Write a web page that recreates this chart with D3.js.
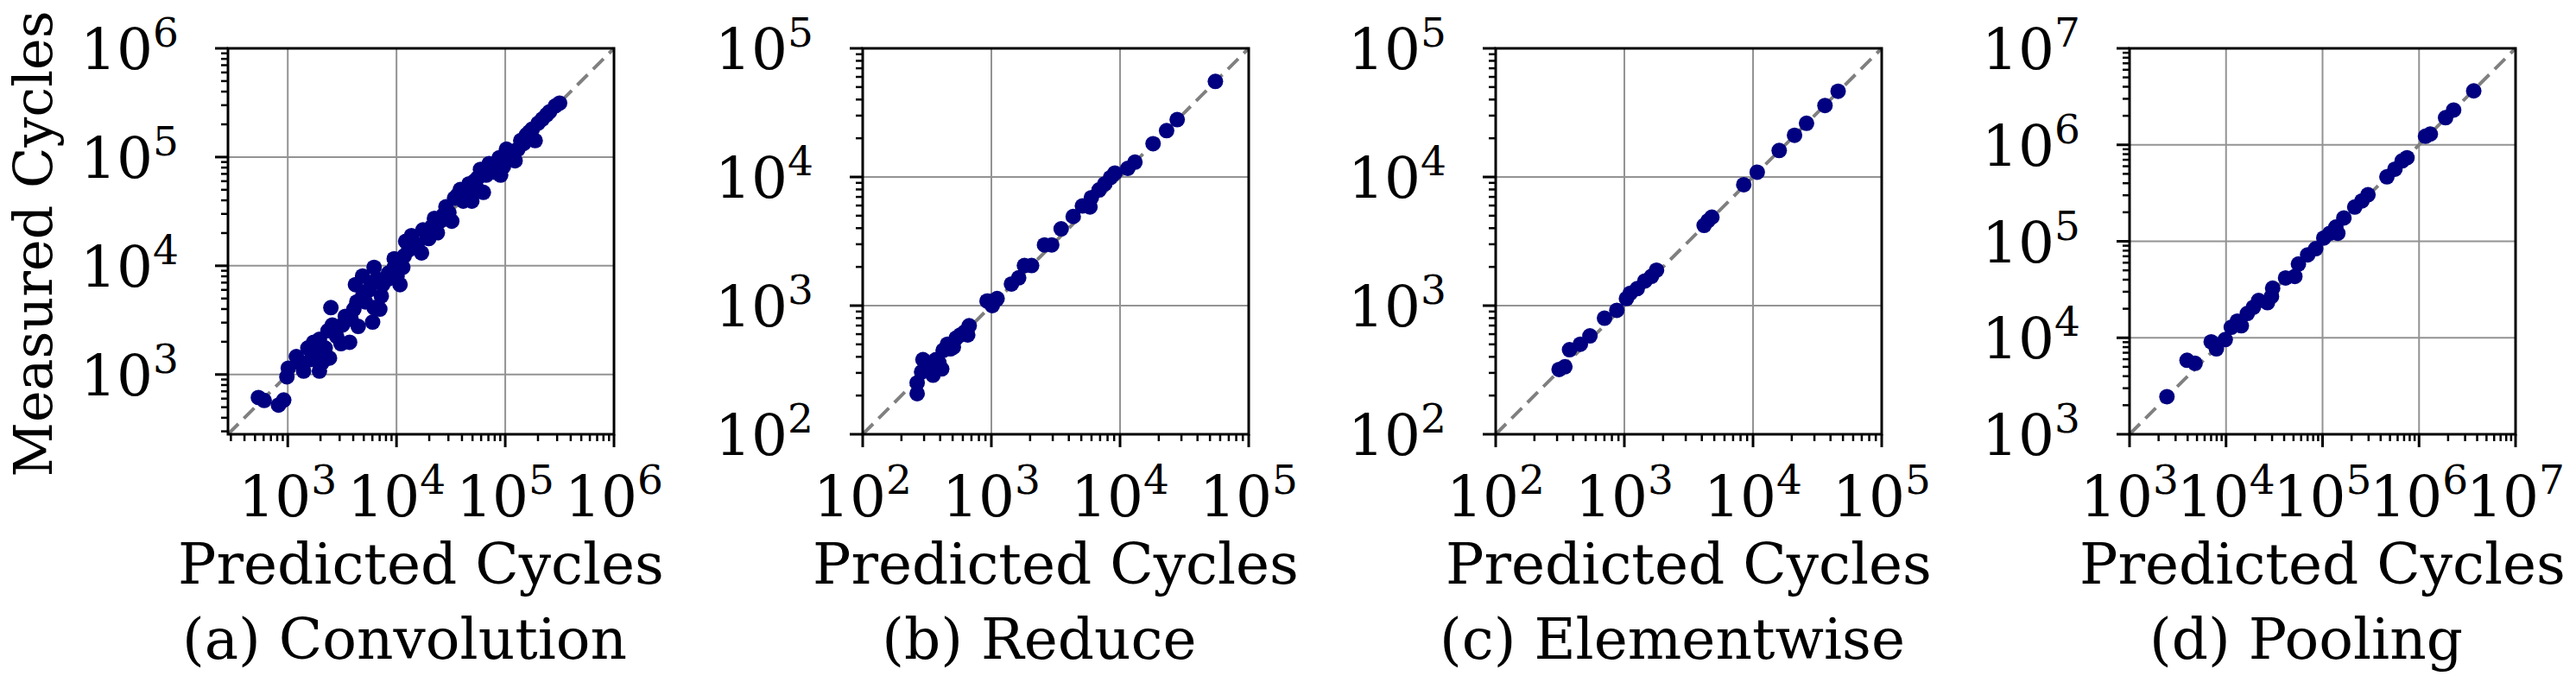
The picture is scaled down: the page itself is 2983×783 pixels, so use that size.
<!DOCTYPE html>
<html lang="en">

<head>
    <title>Predicted vs measured cycles</title>
    <meta charset="utf-8">
    <script src="https://d3js.org/d3.v7.min.js"></script>
    <style>
        body { margin: 0; background: #fff; }
        text { font-family: "DejaVu Serif", serif; fill: #000; }
    </style>
</head>

<body>
    <div id="chart"></div>
    <script>
        // Data: [predicted, measured] cycles
        const convolution = [
            [537, 614], [607, 577], [822, 523], [918, 583], [1012, 1143], [982, 952], [1399, 1076], [1276, 1291],
            [1954, 1076], [2073, 1291], [1531, 1753], [1730, 1552], [1954, 2104], [2208, 1753], [2421, 1416],
            [2345, 2528], [2571, 2856], [2493, 4120], [3085, 1920], [3704, 1981], [3183, 2856], [3383, 3428],
            [4059, 3992], [4445, 2769], [6030, 3034], [7025, 3992], [6222, 4120], [4318, 4654], [4877, 5260],
            [5509, 5943], [5852, 6714], [4193, 6714], [4877, 8054], [6222, 9679], [6607, 7580], [7246, 5260],
            [8440, 8566], [9530, 9679], [10770, 6714], [10120, 8054], [11430, 9679], [10770, 10940], [11780, 12350],
            [12150, 16760], [13740, 18930], [15490, 15770], [17500, 21390], [16980, 13130], [19780, 17810],
            [21020, 22740], [22340, 27310], [23750, 20120], [25230, 25700], [28500, 34850], [32200, 25700],
            [30300, 30850], [34200, 41850], [38620, 50260], [41100, 39380], [46400, 56780], [49300, 39380],
            [52450, 60390], [55720, 50260], [62950, 47300], [59180, 77070], [66840, 68230], [71080, 87030],
            [80300, 72470], [87900, 98360], [96300, 81870], [90700, 68230], [102600, 118100], [112300, 111100],
            [123000, 92550], [130700, 118100], [138900, 141800], [156900, 160300], [177300, 181100],
            [188400, 141800], [200300, 204700], [219500, 224200], [240400, 245600], [288500, 295100],
            [316000, 313600], [9530, 11610], [12910, 13950], [18600, 20120], [26830, 29030], [36360, 44500],
            [43650, 47300], [55720, 64180], [75540, 77070], [85350, 87030], [115600, 104500], [147600, 133400],
            [166800, 170400], [255500, 261000], [2818, 2685], [3821, 3228], [5176, 4654], [7464, 6714],
            [8440, 7580], [2818, 2237], [1629, 1374], [1200, 1459], [1730, 1981]
        ];

        const reduce = [
            [265, 207], [265, 251], [294, 380], [287, 305], [318, 322], [352, 340], [352, 288], [391, 360],
            [411, 322], [422, 449], [456, 501], [506, 475], [533, 560], [575, 592], [622, 625], [672, 698],
            [655, 592], [318, 360], [371, 380], [481, 461], [940, 1086], [1096, 1117], [1016, 1000], [926, 1086],
            [1108, 1136], [1000, 1028], [1432, 1472], [1630, 1644], [1807, 2051], [2055, 2051], [2588, 2964],
            [2945, 2964], [3486, 3954], [4326, 4932], [5100, 5953], [5838, 5848], [5985, 6903], [6872, 7925],
            [7617, 8851], [8440, 9890], [9120, 10740], [11490, 11670], [13060, 13030], [18060, 18150],
            [23010, 22910], [27810, 27920], [55080, 55340]
        ];

        const elementwise = [
            [311, 319], [345, 335], [375, 454], [455, 501], [540, 582], [701, 798], [874, 920], [1038, 1135],
            [1111, 1247], [1259, 1355], [1445, 1555], [1625, 1690], [1778, 1888], [4169, 4207], [4467, 4564],
            [4786, 4875], [8472, 8710], [10780, 10900], [15970, 16080], [21020, 21090], [26040, 26120],
            [36240, 35970], [45840, 46440]
        ];

        const pooling = [
            [2441, 2454], [3945, 5846], [4775, 5433], [7015, 9078], [7943, 7671], [9808, 9573], [11330, 12850],
            [13090, 14890], [14390, 13330], [16620, 17860], [19190, 20700], [21760, 24360], [26860, 23130],
            [29560, 26780], [30410, 32660], [41370, 41680], [51640, 43270], [56230, 58080], [70150, 72310],
            [84950, 83720], [103000, 108300], [119000, 121100], [143900, 121100], [137300, 140200],
            [166300, 174800], [215400, 226600], [256000, 262500], [295600, 303700], [464200, 465600],
            [562300, 559800], [668300, 682500], [749900, 734900], [1166000, 1228000], [1308000, 1294000],
            [1884000, 1909000], [2282000, 2296000], [3686000, 3624000]
        ];

        const captions = ["(a) Convolution", "(b) Reduce", "(c) Elementwise", "(d) Pooling"];
        const series = [convolution, reduce, elementwise, pooling];
        const domains = [[282, 1e6], [1e2, 1e5], [1e2, 1e5], [1e3, 1e7]];

        // Layout
        const panelLeft = [264, 999, 1732, 2466];
        const panelTop = 56;
        const size = 447;
        const fontSize = 66;

        const svg = d3.select("#chart")
            .append("svg")
            .attr("width", 2983)
            .attr("height", 783);

        svg.append("rect")
            .attr("width", 2983)
            .attr("height", 783)
            .attr("fill", "#fff");

        function powerLabel(sel, exp) {
            sel.append("tspan").text("10");
            sel.append("tspan")
                .attr("dy", -26)
                .attr("font-size", 47)
                .text(exp);
        }

        series.forEach((data, i) => {
            const [lo, hi] = domains[i];
            const g = svg.append("g")
                .attr("transform", `translate(${panelLeft[i]},${panelTop})`);

            const x = d3.scaleLog().domain([lo, hi]).range([0, size]);
            const y = d3.scaleLog().domain([lo, hi]).range([size, 0]);

            const eLo = Math.ceil(Math.log10(lo) - 1e-9);
            const eHi = Math.floor(Math.log10(hi) + 1e-9);
            const majors = d3.range(eLo, eHi + 1);
            const minors = [];
            for (let e = Math.floor(Math.log10(lo)); e < eHi; e++) {
                for (let k = 2; k <= 9; k++) {
                    const v = k * Math.pow(10, e);
                    if (v >= lo && v <= hi) minors.push(v);
                }
            }

            // Grid
            g.selectAll(".gx").data(majors).enter().append("line")
                .attr("x1", d => x(Math.pow(10, d))).attr("x2", d => x(Math.pow(10, d)))
                .attr("y1", 0).attr("y2", size)
                .attr("stroke", "#939393").attr("stroke-width", 2);
            g.selectAll(".gy").data(majors).enter().append("line")
                .attr("y1", d => y(Math.pow(10, d))).attr("y2", d => y(Math.pow(10, d)))
                .attr("x1", 0).attr("x2", size)
                .attr("stroke", "#939393").attr("stroke-width", 2);

            // Diagonal y = x
            g.append("line")
                .attr("x1", x(lo)).attr("y1", y(lo))
                .attr("x2", x(hi)).attr("y2", y(hi))
                .attr("stroke", "#808080")
                .attr("stroke-width", 4)
                .attr("stroke-dasharray", "17,9");

            // Points
            g.selectAll("circle").data(data).enter().append("circle")
                .attr("cx", d => x(d[0]))
                .attr("cy", d => y(d[1]))
                .attr("r", 9)
                .attr("fill", "#000080");

            // Frame
            g.append("rect")
                .attr("width", size).attr("height", size)
                .attr("fill", "none")
                .attr("stroke", "#000")
                .attr("stroke-width", 3);

            // Ticks
            g.selectAll(".mx").data(majors).enter().append("line")
                .attr("x1", d => x(Math.pow(10, d))).attr("x2", d => x(Math.pow(10, d)))
                .attr("y1", size).attr("y2", size + 15)
                .attr("stroke", "#000").attr("stroke-width", 3);
            g.selectAll(".nx").data(minors).enter().append("line")
                .attr("x1", d => x(d)).attr("x2", d => x(d))
                .attr("y1", size).attr("y2", size + 8)
                .attr("stroke", "#000").attr("stroke-width", 2.5);
            g.selectAll(".my").data(majors).enter().append("line")
                .attr("y1", d => y(Math.pow(10, d))).attr("y2", d => y(Math.pow(10, d)))
                .attr("x1", 0).attr("x2", -15)
                .attr("stroke", "#000").attr("stroke-width", 3);
            g.selectAll(".ny").data(minors).enter().append("line")
                .attr("y1", d => y(d)).attr("y2", d => y(d))
                .attr("x1", 0).attr("x2", -8)
                .attr("stroke", "#000").attr("stroke-width", 2.5);

            // Tick labels
            majors.forEach(e => {
                g.append("text")
                    .attr("x", x(Math.pow(10, e)))
                    .attr("y", size + 95)
                    .attr("text-anchor", "middle")
                    .attr("font-size", fontSize)
                    .call(powerLabel, e);
                g.append("text")
                    .attr("x", -57)
                    .attr("y", y(Math.pow(10, e)) + 24)
                    .attr("text-anchor", "end")
                    .attr("font-size", fontSize)
                    .call(powerLabel, e);
            });

            // Axis title and caption
            g.append("text")
                .attr("x", size / 2)
                .attr("y", 620)
                .attr("text-anchor", "middle")
                .attr("font-size", fontSize)
                .text("Predicted Cycles");

            g.append("text")
                .attr("x", size / 2 - 19)
                .attr("y", 707)
                .attr("text-anchor", "middle")
                .attr("font-size", fontSize)
                .text(captions[i]);

            if (i === 0) {
                g.append("text")
                    .attr("transform", `translate(${-204},${size / 2 + 3}) rotate(-90)`)
                    .attr("text-anchor", "middle")
                    .attr("font-size", 62)
                    .text("Measured Cycles");
            }
        });
    </script>
</body>

</html>
